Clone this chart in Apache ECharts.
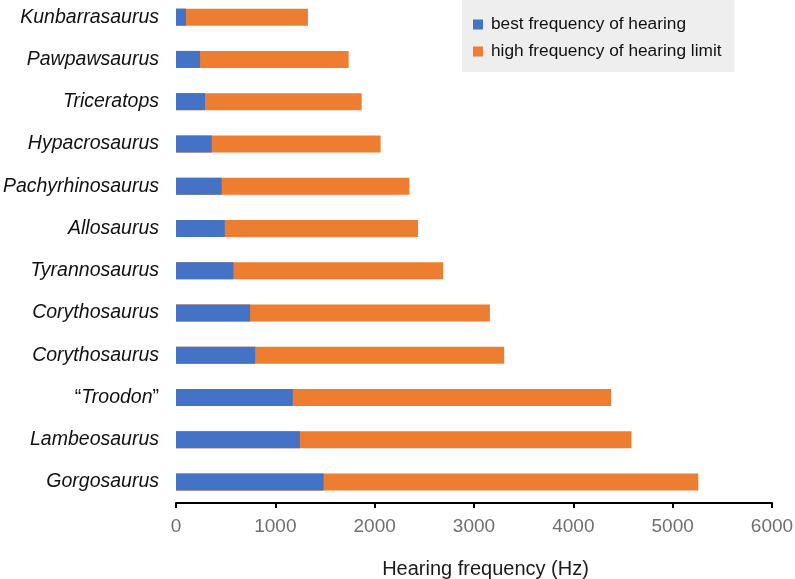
<!DOCTYPE html>
<html>
<head>
<meta charset="utf-8">
<title>Hearing frequency</title>
<script src="https://cdn.jsdelivr.net/npm/echarts@6/dist/echarts.min.js"></script>
<style>
  html, body { margin: 0; padding: 0; background: #fff; }
  #chart { width: 795px; height: 579px; }
</style>
</head>
<body>
<div id="chart"></div>
<script>
// taxa, top to bottom
const taxa = [
  'Kunbarrasaurus', 'Pawpawsaurus', 'Triceratops', 'Hypacrosaurus',
  'Pachyrhinosaurus', 'Allosaurus', 'Tyrannosaurus', 'Corythosaurus',
  'Corythosaurus', '“Troodon”', 'Lambeosaurus', 'Gorgosaurus'
]
// Hz
const bestFreq = [100, 242, 292, 360, 460, 491, 578, 746, 797, 1175, 1248, 1485]
const highLimit = [1328, 1738, 1869, 2060, 2350, 2437, 2689, 3160, 3304, 4381, 4585, 5258]
const xTicks = { min: 0, max: 6000, interval: 1000 }

const BLUE = '#4472C4'
const ORANGE = '#ED7D31'
const FONT = '"Liberation Sans", Arial, sans-serif'

const chart = echarts.init(document.getElementById('chart'))

chart.setOption({
  animation: false,
  textStyle: { fontFamily: FONT },
  legend: {
    orient: 'vertical',
    left: 462,
    top: 0,
    padding: [16, 13, 12, 11],
    backgroundColor: '#eeeeee',
    itemGap: 10,
    itemWidth: 10,
    itemHeight: 10,
    icon: 'rect',
    data: ['best frequency of hearing', 'high frequency of hearing limit'],
    textStyle: {
      color: '#111',
      fontSize: 17.3,
      lineHeight: 17,
      padding: [0, 0, 0, 3],
    },
  },
  grid: {
    left: 176,
    right: 23,
    top: -4,
    bottom: 76,
    containLabel: false,
    outerBoundsMode: 'none',
  },
  xAxis: {
    type: 'value',
    min: xTicks.min,
    max: xTicks.max,
    interval: xTicks.interval,
    name: 'Hearing frequency (Hz)',
    nameLocation: 'middle',
    nameGap: 56,
    nameTextStyle: { color: '#1a1a1a', fontSize: 20, padding: [0, 0, 0, 23] },
    axisLine: { show: true, lineStyle: { color: '#000', width: 2 } },
    axisTick: { show: true, length: 5, lineStyle: { color: '#000', width: 2 } },
    axisLabel: {
      color: '#6f6f6f',
      fontSize: 19,
      margin: 14,
      formatter: (v) => String(v),
    },
    splitLine: { show: false },
  },
  yAxis: {
    type: 'category',
    inverse: true,
    data: taxa,
    axisLine: { show: false },
    axisTick: { show: false },
    axisLabel: {
      margin: 17,
      color: '#111',
      fontSize: 19.5,
      fontStyle: 'italic',
      formatter: (v) => {
        // quotes upright, name italic
        if (v.startsWith('“')) {
          return '{q|“}' + v.slice(1, -1) + '{q|”}'
        }
        return v
      },
      rich: {
        q: { fontStyle: 'normal', fontSize: 19.5, color: '#111' },
      },
    },
  },
  series: [
    {
      name: 'high frequency of hearing limit',
      type: 'bar',
      barWidth: 17,
      barGap: '-100%',
      itemStyle: { color: ORANGE },
      data: highLimit,
    },
    {
      name: 'best frequency of hearing',
      type: 'bar',
      barWidth: 17,
      barGap: '-100%',
      itemStyle: { color: BLUE },
      data: bestFreq,
    },
  ],
})
</script>
</body>
</html>
